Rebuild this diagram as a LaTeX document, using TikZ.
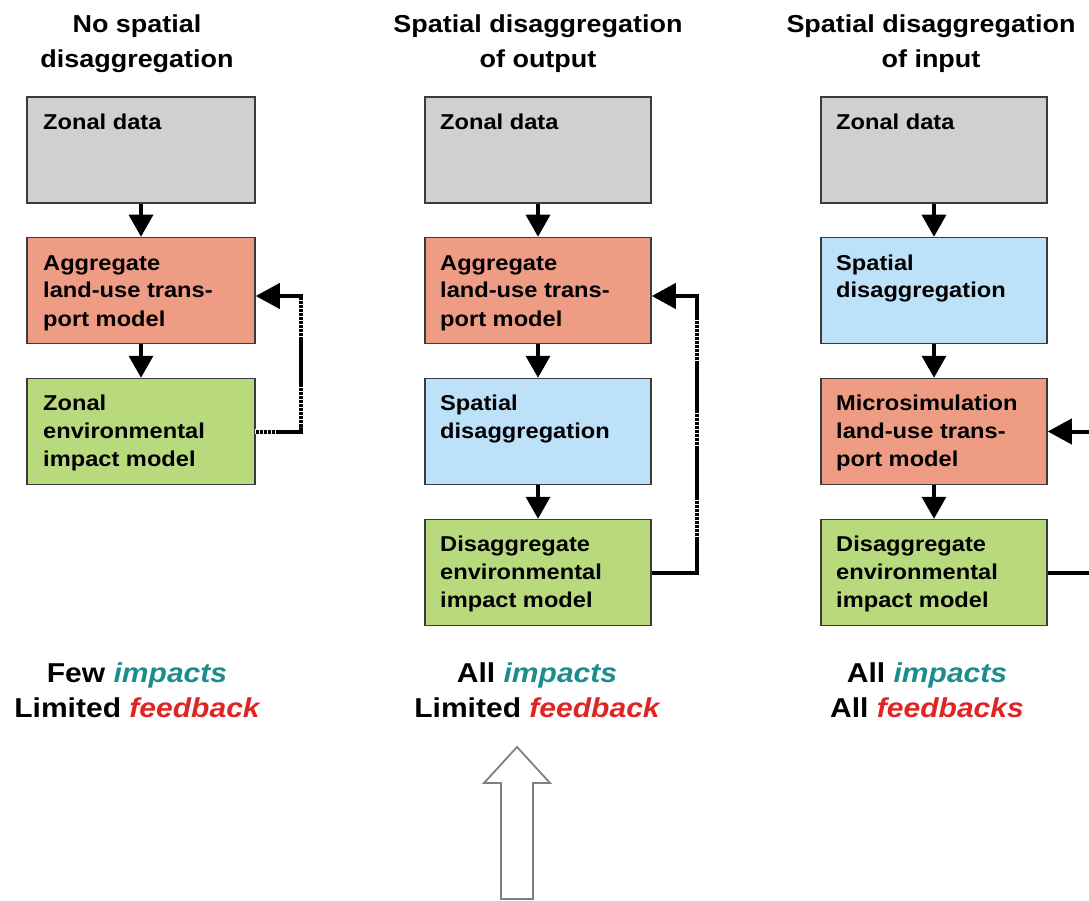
\documentclass[tikz,border=0pt]{standalone}
\usepackage{fontspec}
\setmainfont{Liberation Sans}[FakeStretch=1.1]
\usetikzlibrary{arrows.meta}
\definecolor{zgray}{HTML}{D0D0D0}
\definecolor{zred}{HTML}{EE9C84}
\definecolor{zblue}{HTML}{BDE1F8}
\definecolor{zgreen}{HTML}{B9DA7C}
\definecolor{imp}{HTML}{1C8C8C}
\definecolor{fbk}{HTML}{E02424}
\definecolor{edge}{HTML}{3A3A3A}
\begin{document}
\begin{tikzpicture}[x=1pt,y=-1pt,
  box/.style={draw=edge, line width=1.5pt, minimum height=106pt, inner sep=0pt},
  boxA/.style={box, minimum width=228pt},
  boxB/.style={box, minimum width=226pt},
  bt/.style={anchor=base west, align=left, inner sep=0pt, font=\bfseries\fontsize{21.5}{28}\selectfont},
  title/.style={anchor=base, align=center, inner sep=0pt, font=\bfseries\fontsize{24.5}{35}\selectfont},
  verdict/.style={anchor=base, align=center, inner sep=0pt, font=\bfseries\fontsize{27.3}{35}\selectfont},
  arr/.style={line width=3.5pt, -{Triangle[length=22pt,width=24pt]}},
  fb/.style={line width=4pt, -{Triangle[length=24pt,width=25pt]}},
  dots/.style={white, line width=5pt, line cap=butt, dash pattern=on 1.3pt off 2.7pt}
]
\useasboundingbox (0,0) rectangle (1089,901);

% titles (base = last line)
\node[title] (h1) at (137,68) {No spatial\\disaggregation};
\node[title] (h2) at (538,68) {Spatial disaggregation\\of output};
\node[title] (h3) at (931,68) {Spatial disaggregation\\of input};

% column 1
\node[boxA, fill=zgray]  (z1) at (141,150) {};
\node[boxA, fill=zred]   (a1) at (141,290.5) {};
\node[boxA, fill=zgreen] (g1) at (141,431.5) {};
\node[bt] (tz1) at (43,130) {Zonal data};
\node[bt] (ta1) at (43,326) {Aggregate\\land-use trans-\\port model};
\node[bt] (tg1) at (43,466) {Zonal\\environmental\\impact model};
\draw[arr] (z1.south) -- (a1.north);
\draw[arr] (a1.south) -- (g1.north);
\draw[fb] (g1.east) -- ++(45,0) |- ([yshift=-5.5pt]a1.east);
\draw[dots] (255,431.5) -- (277,431.5);
\draw[dots] (300,300) -- (300,337);
\draw[dots] (300,387) -- (300,427);

% column 2
\node[boxB, fill=zgray]  (z2) at (538,150) {};
\node[boxB, fill=zred]   (a2) at (538,290.5) {};
\node[boxB, fill=zblue]  (s2) at (538,431.5) {};
\node[boxB, fill=zgreen] (g2) at (538,572.5) {};
\node[bt] (tz2) at (440,130) {Zonal data};
\node[bt] (ta2) at (440,326) {Aggregate\\land-use trans-\\port model};
\node[bt] (ts2) at (440,438) {Spatial\\disaggregation};
\node[bt] (tg2) at (440,607) {Disaggregate\\environmental\\impact model};
\draw[arr] (z2.south) -- (a2.north);
\draw[arr] (a2.south) -- (s2.north);
\draw[arr] (s2.south) -- (g2.north);
\draw[fb] (g2.east) -- ++(45,0) |- ([yshift=-5.5pt]a2.east);
\draw[dots] (696,320) -- (696,362);
\draw[dots] (696,413) -- (696,448);
\draw[dots] (696,500) -- (696,537);

% column 3
\node[boxB, fill=zgray]  (z3) at (934,150) {};
\node[boxB, fill=zblue]  (s3) at (934,290.5) {};
\node[boxB, fill=zred]   (m3) at (934,431.5) {};
\node[boxB, fill=zgreen] (g3) at (934,572.5) {};
\node[bt] (tz3) at (836,130) {Zonal data};
\node[bt] (ts3) at (836,298) {Spatial\\disaggregation};
\node[bt] (tm3) at (836,466) {Microsimulation\\land-use trans-\\port model};
\node[bt] (tg3) at (836,607) {Disaggregate\\environmental\\impact model};
\draw[arr] (z3.south) -- (s3.north);
\draw[arr] (s3.south) -- (m3.north);
\draw[arr] (m3.south) -- (g3.north);
\draw[fb] (g3.east) -- ++(43,0) |- (m3.east);

% verdicts (base = last line)
\node[verdict] (v1) at (137,717) {Few \textcolor{imp}{\itshape impacts}\\Limited \textcolor{fbk}{\itshape feedback}};
\node[verdict] (v2) at (537,717) {All \textcolor{imp}{\itshape impacts}\\Limited \textcolor{fbk}{\itshape feedback}};
\node[verdict] (v3) at (927,717) {All \textcolor{imp}{\itshape impacts}\\All \textcolor{fbk}{\itshape feedbacks}};

% hollow arrow
\draw[gray, line width=1.8pt, fill=white, line join=miter]
  (501,899) -- (501,783) -- (484,783) -- (517,747) -- (550,783) -- (533,783) -- (533,899) -- cycle;
\end{tikzpicture}
\end{document}
